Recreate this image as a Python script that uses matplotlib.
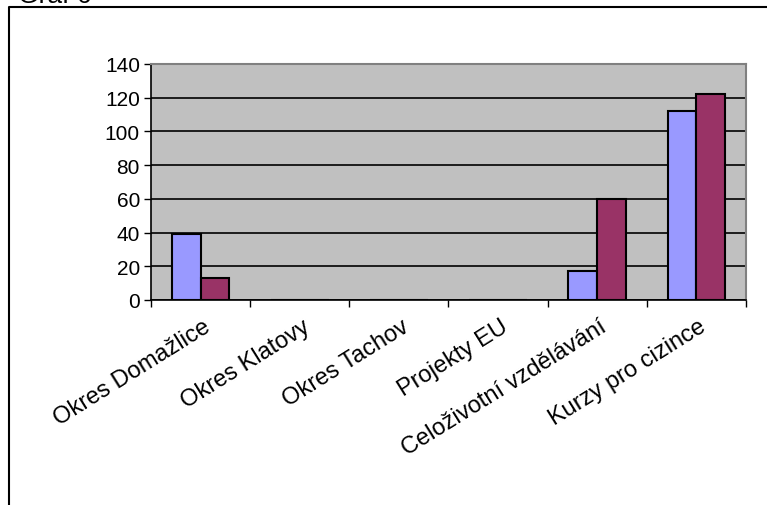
import matplotlib.pyplot as plt
import numpy as np
from matplotlib.lines import Line2D

plt.rcParams['font.family'] = ['Liberation Sans', 'DejaVu Sans']

kategorie = ['Okres Domažlice', 'Okres Klatovy', 'Okres Tachov', 'Projekty EU',
             'Celoživotní vzdělávání', 'Kurzy pro cizince']
rada1 = [39, 0, 0, 0, 17, 112]
rada2 = [13, 0, 0, 0, 60, 122]
yticks = [0, 20, 40, 60, 80, 100, 120, 140]

fig = plt.figure(figsize=(7.67, 5.06), dpi=100)
ax = fig.add_axes([151/767, 1-301/506, 595/767, 236/506])

x = np.arange(len(kategorie))
w = 0.29
ax.set_facecolor('#C0C0C0')
ax.set_axisbelow(True)
ax.yaxis.grid(True, color='black', linewidth=1.2)
ax.bar(x - w/2, rada1, w, color='#9999FF', edgecolor='black', linewidth=1.5, zorder=3)
ax.bar(x + w/2, rada2, w, color='#993366', edgecolor='black', linewidth=1.5, zorder=3)

ax.set_xlim(-0.5, len(kategorie) - 0.5)
ax.set_ylim(0, 140)
ax.set_yticks(yticks)
ax.set_yticklabels([str(v) for v in yticks], fontsize=15)
ax.tick_params(axis='y', length=5, width=1, pad=3)

# tick marks between categories, labels at centres
ax.set_xticks(np.arange(len(kategorie) + 1) - 0.5)
ax.set_xticklabels([])
ax.tick_params(axis='x', length=5, width=1)
for i, k in enumerate(kategorie):
    ax.text(i + 0.02, -9, k, rotation=32, rotation_mode='anchor', ha='right', va='top',
            fontsize=17)

for s in ['top', 'right']:
    ax.spines[s].set_color('#808080')
    ax.spines[s].set_linewidth(1.5)
for s in ['left', 'bottom']:
    ax.spines[s].set_color('black')
    ax.spines[s].set_linewidth(1.2)

# outer chart frame and cut-off title
fig.add_artist(Line2D([9/767, 9/767, 1], [0, 1-8/506, 1-8/506], color='black', linewidth=1.5))
fig.text(18/767, 1-3/506, 'Graf 6', fontsize=19, va='baseline', ha='left')

fig.savefig('out.png', dpi=100)
